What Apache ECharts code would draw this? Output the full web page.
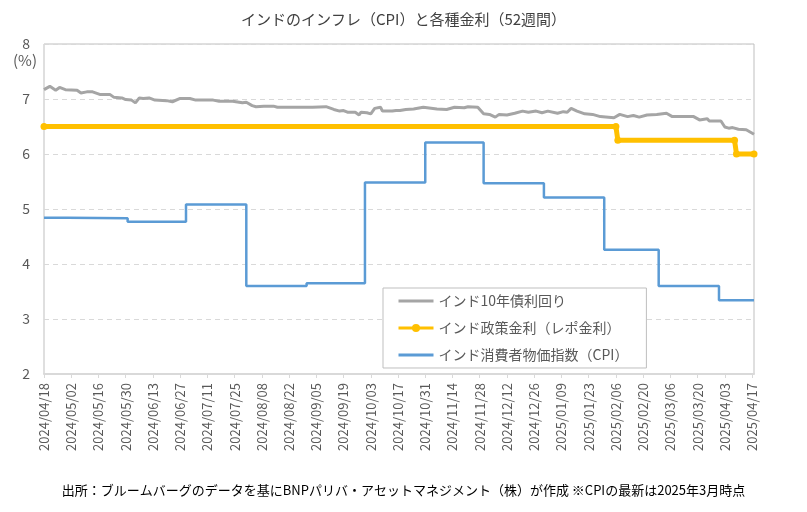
<!DOCTYPE html>
<html>
<head>
<meta charset="utf-8">
<script src="https://cdn.jsdelivr.net/npm/echarts@6/dist/echarts.min.js"></script>
<style>
  html, body { margin: 0; padding: 0; background: #fff; }
  #report { width: 807px; height: 512px; }
</style>
</head>
<body>
<div id="report"></div>
<script>
// インド10年債利回り
var yieldDates = [
  '2024/04/18','2024/04/21','2024/04/24','2024/04/26','2024/04/29','2024/04/30','2024/05/05','2024/05/07',
  '2024/05/10','2024/05/13','2024/05/17','2024/05/22','2024/05/24','2024/05/28','2024/05/30','2024/06/02',
  '2024/06/04','2024/06/06','2024/06/08','2024/06/11','2024/06/14','2024/06/20','2024/06/23','2024/06/27',
  '2024/07/02','2024/07/05','2024/07/14','2024/07/17','2024/07/24','2024/07/29','2024/07/31','2024/08/03',
  '2024/08/05','2024/08/09','2024/08/14','2024/08/16','2024/09/03','2024/09/04','2024/09/10','2024/09/14',
  '2024/09/17','2024/09/19','2024/09/21','2024/09/25','2024/09/27','2024/09/28','2024/10/01','2024/10/03',
  '2024/10/05','2024/10/08','2024/10/09','2024/10/14','2024/10/16','2024/10/18','2024/10/21','2024/10/25',
  '2024/10/30','2024/11/06','2024/11/11','2024/11/15','2024/11/20','2024/11/22','2024/11/27','2024/11/30',
  '2024/12/03','2024/12/06','2024/12/08','2024/12/12','2024/12/16','2024/12/20','2024/12/23','2024/12/27',
  '2024/12/30','2025/01/02','2025/01/07','2025/01/10','2025/01/12','2025/01/14','2025/01/17','2025/01/21',
  '2025/01/25','2025/01/29','2025/02/05','2025/02/08','2025/02/12','2025/02/15','2025/02/18','2025/02/22',
  '2025/02/27','2025/03/04','2025/03/07','2025/03/18','2025/03/21','2025/03/25','2025/03/26','2025/04/01',
  '2025/04/03','2025/04/05','2025/04/07','2025/04/10','2025/04/14','2025/04/18'
];
var yieldValues = [
  7.17,7.23,7.16,7.21,7.17,7.20,7.16,7.11,
  7.13,7.13,7.08,7.08,7.03,7.02,6.99,6.98,
  6.93,7.02,7.01,7.02,6.98,6.97,6.95,7.01,
  7.01,6.98,6.98,6.96,6.96,6.93,6.94,6.88,
  6.86,6.87,6.87,6.85,6.85,6.88,6.86,6.81,
  6.78,6.79,6.76,6.76,6.71,6.76,6.75,6.73,
  6.83,6.85,6.78,6.78,6.79,6.79,6.81,6.82,
  6.85,6.82,6.81,6.85,6.84,6.86,6.85,6.73,
  6.72,6.67,6.72,6.71,6.74,6.78,6.76,6.78,
  6.75,6.78,6.74,6.77,6.76,6.83,6.78,6.73,
  6.72,6.68,6.66,6.72,6.68,6.70,6.67,6.71,
  6.72,6.74,6.68,6.68,6.62,6.64,6.60,6.60,
  6.49,6.47,6.48,6.45,6.44,6.36
];

// インド政策金利（レポ金利）
var repoDates  = ['2024/04/18','2025/02/06','2025/02/07','2025/04/08','2025/04/09','2025/04/18'];
var repoValues = [6.50, 6.50, 6.25, 6.25, 6.00, 6.00];

// インド消費者物価指数（CPI）前年比、月末に反映
var cpiDates  = ['2024/04/18','2024/04/30','2024/05/31','2024/06/30','2024/07/31','2024/08/31','2024/09/30',
                 '2024/10/31','2024/11/30','2024/12/31','2025/01/31','2025/02/28','2025/03/31','2025/04/18'];
var cpiValues = [4.84, 4.83, 4.77, 5.08, 3.60, 3.65, 5.48, 6.21, 5.47, 5.21, 4.26, 3.60, 3.34, 3.34];

var startDate = '2024/04/18';
var endDate = '2025/04/18';
var tickStepDays = 14;

var names = ['インド10年債利回り', 'インド政策金利（レポ金利）', 'インド消費者物価指数（CPI）'];
var font = '"Noto Sans CJK JP", "Noto Sans", sans-serif';

function toUtc(s) {
  var p = s.split('/');
  return Date.UTC(+p[0], +p[1] - 1, +p[2]);
}
function dayNo(s) {
  return Math.round((toUtc(s) - toUtc(startDate)) / 86400000);
}
function pad(n) { return n < 10 ? '0' + n : '' + n; }
function dayLabel(n) {
  var d = new Date(toUtc(startDate) + n * 86400000);
  return d.getUTCFullYear() + '/' + pad(d.getUTCMonth() + 1) + '/' + pad(d.getUTCDate());
}
function pairs(dates, values) {
  return dates.map(function (s, i) { return [dayNo(s), values[i]]; });
}

var myChart = echarts.init(document.getElementById('report'));
var option = {
  animation: false,
  textStyle: { fontFamily: font },
  title: {
    text: 'インドのインフレ（CPI）と各種金利（52週間）',
    left: 'center',
    top: 7,
    textStyle: { fontSize: 15, fontWeight: 'normal', color: '#404040', fontFamily: font }
  },
  legend: {
    orient: 'vertical',
    left: 383,
    top: 288,
    padding: [6, 18, 6, 14],
    itemGap: 13,
    itemWidth: 35,
    itemHeight: 10,
    backgroundColor: '#fff',
    borderColor: '#BFBFBF',
    borderWidth: 1,
    borderRadius: 0,
    textStyle: { fontSize: 14, color: '#595959', fontFamily: font },
    data: [
      { name: names[0], itemStyle: { opacity: 0 }, lineStyle: { width: 3 } },
      { name: names[1], itemStyle: { borderWidth: 0 }, lineStyle: { width: 3 } },
      { name: names[2], itemStyle: { opacity: 0 }, lineStyle: { width: 3 } }
    ]
  },
  grid: {
    left: 44,
    right: 53,
    top: 44,
    bottom: 138,
    show: true,
    borderColor: '#BFBFBF',
    borderWidth: 1
  },
  xAxis: {
    type: 'value',
    min: 0,
    max: dayNo(endDate),
    interval: tickStepDays,
    axisLine: { show: true, lineStyle: { color: '#D9D9D9', width: 2 } },
    axisTick: { show: true, length: 4, lineStyle: { color: '#D9D9D9' } },
    splitLine: { show: false },
    axisLabel: {
      rotate: 90,
      margin: 9,
      fontSize: 13,
      color: '#595959',
      showMaxLabel: false,
      formatter: function (v) { return dayLabel(v); }
    }
  },
  yAxis: {
    type: 'value',
    min: 2,
    max: 8,
    interval: 1,
    axisLine: { show: false },
    axisTick: { show: false },
    axisLabel: { fontSize: 14, color: '#595959', margin: 14 },
    splitLine: { lineStyle: { color: '#D9D9D9', type: [5, 4] } }
  },
  graphic: [
    { type: 'text', left: 13, top: 53, style: { text: '(%)', fontSize: 15, fill: '#595959', fontFamily: font } },
    {
      type: 'text', left: 'center', top: 484,
      style: {
        text: '出所：ブルームバーグのデータを基にBNPパリバ・アセットマネジメント（株）が作成 ※CPIの最新は2025年3月時点',
        fontSize: 13, fill: '#000', fontFamily: font
      }
    }
  ],
  series: [
    {
      name: names[0],
      type: 'line',
      data: pairs(yieldDates, yieldValues),
      showSymbol: false,
      symbol: 'none',
      lineStyle: { color: '#A5A5A5', width: 3 },
      itemStyle: { color: '#A5A5A5' }
    },
    {
      name: names[1],
      type: 'line',
      data: pairs(repoDates, repoValues),
      symbol: 'circle',
      symbolSize: 7,
      lineStyle: { color: '#FFC000', width: 5 },
      itemStyle: { color: '#FFC000' }
    },
    {
      name: names[2],
      type: 'line',
      step: 'end',
      data: pairs(cpiDates, cpiValues),
      showSymbol: false,
      symbol: 'none',
      lineStyle: { color: '#5B9BD5', width: 2.5 },
      itemStyle: { color: '#5B9BD5' }
    }
  ]
};
myChart.setOption(option);
</script>
</body>
</html>
